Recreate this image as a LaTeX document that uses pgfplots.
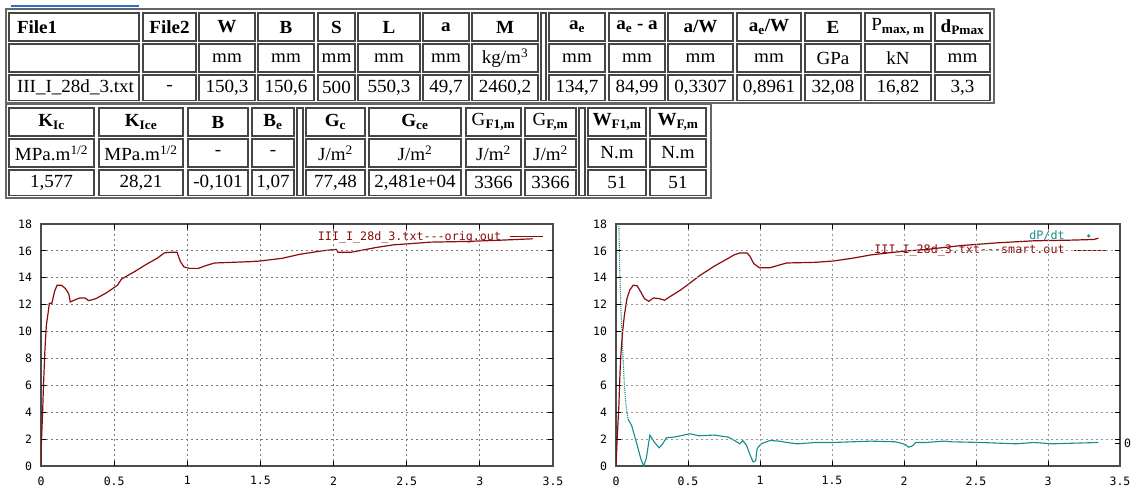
\documentclass[border=0pt]{standalone}
\usepackage{fontspec}
\setmainfont{Liberation Serif}
\setmonofont{DejaVu Sans Mono}
\newfontfamily\tabfont[FakeStretch=1.03]{Liberation Serif}
\usepackage{pgfplots}
\pgfplotsset{compat=1.18}

\definecolor{dred}{RGB}{140,10,10}
\definecolor{dteal}{RGB}{20,140,140}
\definecolor{cellline}{RGB}{70,70,70}
\definecolor{toplink}{RGB}{50,110,200}
\definecolor{gridc}{RGB}{150,150,150}

\newcommand\tf{\tabfont\fontsize{18.5}{21}\selectfont}
\newcommand\tickf{\ttfamily\fontsize{11.5}{13}\selectfont}
\newcommand\legf{\ttfamily\fontsize{11.7}{13}\selectfont}

% one cell: x1, x2, y1, y2, text (y grows downwards)
\newcommand\cell[5]{%
  \draw[cellline, line width=1.2pt] (#1,#3) rectangle (#2,#4);
  \node[font=\tf, inner sep=0pt] at ({(#1+#2)/2},{(#3+#4)/2}) {#5};}
% one column of three cells: x1, x2, y offset, head, unit, value
\newcommand\col[6]{%
  \cell{#1}{#2}{13+#3}{41+#3}{#4}
  \cell{#1}{#2}{44+#3}{72+#3}{#5}
  \cell{#1}{#2}{75+#3}{100.5+#3}{#6}}

% dashed grid and inward ticks of a frame: left x, right x, extra grid style
\newcommand\gpframe[3]{%
  \foreach \k in {0.5,1,1.5,2,2.5,3} {
    \pgfmathsetmacro\xx{#1+(#2-#1)*\k/3.5}
    \draw[gridc, line width=1pt, dash pattern=on 2pt off 3pt, #3] (\xx,224) -- (\xx,466);
    \draw[black, line width=1pt] (\xx,466) -- (\xx,461) (\xx,224) -- (\xx,229);}
  \foreach \j in {2,4,...,16} {
    \pgfmathsetmacro\yy{466-242*\j/18}
    \draw[gridc, line width=1pt, dash pattern=on 2pt off 3pt, #3] (#1,\yy) -- (#2,\yy);
    \draw[black, line width=1pt] (#1,\yy) -- (#1+5,\yy) (#2,\yy) -- (#2-5,\yy);}}

\pgfplotsset{
  gp/.style={
    scale only axis, height=242pt,
    xmin=0, xmax=3.5, ymin=0, ymax=18,
    xtick={0,0.5,...,3.5}, ytick={0,2,...,18},
    axis line style={black!70, line width=1.4pt},
    major tick length=0pt,
    tick label style={font=\tickf},
    yticklabel style={xshift=-5.5pt},
    xticklabel style={yshift=-7pt},
    legend style={draw=none, fill=none, font=\legf, inner sep=0pt,
      row sep=1pt, column sep=7pt, nodes={inner sep=1.5pt}},
    legend plot pos=right, legend cell align=right,
    legend image code/.code={\draw[##1] (0pt,0pt) -- (33pt,0pt);},
  }
}

\begin{document}
\begin{tikzpicture}
\path (0,0) rectangle (1131pt,-486pt);
\clip (0,0) rectangle (1131pt,-486pt);

% left plot
\begin{axis}[gp, at={(41pt,-466pt)}, anchor=south west, width=512pt,
  /pgf/number format/assume math mode=true,
  legend style={at={(rel axis cs:1,1)}, anchor=north east, xshift=-9pt, yshift=-6pt}]
\addplot[dred, line width=1.2pt] coordinates {
 (0,0) (0.002,1.5) (0.012,4.3) (0.017,6) (0.027,8.7) (0.037,10.5)
 (0.05,11.5) (0.057,12.1) (0.074,12.1) (0.093,13.0) (0.11,13.45)
 (0.14,13.45) (0.167,13.2) (0.19,12.8) (0.2,12.2) (0.23,12.35)
 (0.265,12.5) (0.3,12.5) (0.327,12.3) (0.376,12.45) (0.45,12.9)
 (0.523,13.45) (0.55,13.9) (0.646,14.5) (0.72,15.0) (0.794,15.45)
 (0.843,15.85) (0.89,15.9) (0.93,15.9) (0.953,15.2) (0.978,14.8)
 (1.015,14.7) (1.076,14.7) (1.125,14.9) (1.187,15.1) (1.31,15.15)
 (1.43,15.2) (1.5,15.25) (1.65,15.45) (1.77,15.75) (1.92,16.0)
 (2.0,16.1) (2.02,16.1) (2.03,15.9) (2.12,15.9) (2.29,16.25)
 (2.41,16.45) (2.54,16.55) (2.66,16.65) (2.9,16.7) (3.15,16.8) (3.36,16.9)
};
\addlegendentry{\textcolor{dred}{III\_I\_28d\_3.txt---orig.out}}
\end{axis}

% right plot
\begin{axis}[gp, at={(616pt,-466pt)}, anchor=south west, width=504pt,
  /pgf/number format/assume math mode=true,
  legend style={at={(rel axis cs:1,1)}, anchor=north east, xshift=-12.5pt, yshift=-5pt}]
\addplot[dteal, line width=1.1pt,
  legend image code/.code={\fill[dteal] (15pt,0pt) circle (0.9pt); \path (33pt,0pt);}]
 coordinates {
 (0.083,3.5) (0.109,3.0) (0.147,1.55) (0.172,0.55) (0.192,0) (0.21,0.55)
 (0.235,2.3) (0.268,1.75) (0.3,1.35) (0.324,1.65) (0.35,2.1) (0.4,2.15)
 (0.45,2.25) (0.513,2.4) (0.577,2.25) (0.68,2.3) (0.78,2.15) (0.83,1.85)
 (0.86,1.65) (0.88,1.9) (0.906,1.55) (0.93,0.85) (0.952,0.3) (0.97,0.4)
 (0.98,1.3) (1.008,1.65) (1.07,1.9) (1.135,1.85) (1.185,1.75) (1.26,1.65)
 (1.387,1.75) (1.51,1.75) (1.64,1.8) (1.77,1.85) (1.94,1.8) (2.01,1.6)
 (2.03,1.4) (2.06,1.5) (2.08,1.75) (2.15,1.75) (2.28,1.85) (2.33,1.8)
 (2.53,1.75) (2.78,1.65) (2.9,1.75) (3.03,1.65) (3.35,1.75)
};
\addlegendentry{\textcolor{dteal}{dP/dt}}
\addplot[dteal, densely dotted, line width=1.1pt, forget plot] coordinates {
 (0.02,18) (0.025,15) (0.033,12) (0.045,9) (0.058,6) (0.07,4.5) (0.083,3.5)
};
\addplot[dred, line width=1.2pt] coordinates {
 (0,0) (0.008,2) (0.02,4.5) (0.028,7) (0.035,8.5) (0.046,10) (0.058,11.2)
 (0.076,12.45) (0.096,13.1) (0.12,13.45) (0.147,13.4) (0.172,12.95)
 (0.197,12.45) (0.228,12.25) (0.26,12.5) (0.3,12.45) (0.337,12.33)
 (0.375,12.6) (0.45,13.1) (0.5,13.5) (0.58,14.15) (0.68,14.85) (0.755,15.3)
 (0.82,15.7) (0.86,15.85) (0.91,15.85) (0.93,15.6) (0.957,15.05)
 (0.995,14.75) (1.07,14.75) (1.135,14.95) (1.185,15.1) (1.387,15.15)
 (1.51,15.25) (1.64,15.45) (1.77,15.7) (1.89,15.85) (2.02,16.0) (2.15,16.1)
 (2.4,16.4) (2.65,16.6) (2.9,16.75) (3.16,16.8) (3.32,16.85) (3.35,16.95)
};
\addlegendentry{\textcolor{dred}{III\_I\_28d\_3.txt---smart.out}}
\end{axis}

\draw[black, line width=1pt] (1115pt,-443pt) -- (1120pt,-443pt);
\node[font=\tickf, anchor=west, inner sep=0pt] at (1124pt,-443pt) {0};

\begin{scope}[x=1pt, y=-1pt]
% grids and ticks of both frames
\gpframe{41}{553}{gridc!80!black, line width=1.2pt}
\gpframe{616}{1120}{}

% tables
\draw[toplink, line width=2pt] (11,6) -- (139,6);

\col{9}{139}{0}{\makebox[114pt][l]{\textbf{File1}}}{}{\makebox[114pt][l]{III\_I\_28d\_3.txt}}
\col{143}{196}{0}{\textbf{File2}}{}{-}
\col{199}{255}{0}{\textbf{W}}{mm}{150,3}
\col{258}{314}{0}{\textbf{B}}{mm}{150,6}
\col{318}{355}{0}{\textbf{S}}{mm}{500}
\col{358}{420}{0}{\textbf{L}}{mm}{550,3}
\col{423}{469}{0}{\textbf{a}}{mm}{49,7}
\col{472}{538}{0}{\textbf{M}}{kg/m\textsuperscript{3}}{2460,2}
\draw[cellline, line width=1.2pt] (541,13) rectangle (546,100.5);
\col{549}{605}{0}{\textbf{a\textsubscript{e}}}{mm}{134,7}
\col{609}{665}{0}{\textbf{a\textsubscript{e} - a}}{mm}{84,99}
\col{668}{733}{0}{\textbf{a/W}}{mm}{0,3307}
\col{737}{801}{0}{\textbf{a\textsubscript{e}/W}}{mm}{0,8961}
\col{805}{861}{0}{\textbf{E}}{GPa}{32,08}
\col{865}{931}{0}{P\textsubscript{\textbf{max, m}}}{kN}{16,82}
\col{935}{990}{0}{\textbf{d\textsubscript{Pmax}}}{mm}{3,3}
\draw[gray!80!black, line width=2pt] (5.5,9.5) rectangle (994,103.5);

\col{9}{94}{95}{\textbf{K\textsubscript{Ic}}}{MPa.m\textsuperscript{1/2}}{1,577}
\col{99}{183}{95}{\textbf{K\textsubscript{Ice}}}{MPa.m\textsuperscript{1/2}}{28,21}
\col{188}{248}{95}{\textbf{B}}{-}{-0,101}
\col{252}{294}{95}{\textbf{B\textsubscript{e}}}{-}{1,07}
\draw[cellline, line width=1.2pt] (297,108) rectangle (303,195.5);
\col{306}{365}{95}{\textbf{G\textsubscript{c}}}{J/m\textsuperscript{2}}{77,48}
\col{369}{461}{95}{\textbf{G\textsubscript{ce}}}{J/m\textsuperscript{2}}{2,481e+04}
\col{466}{521}{95}{G\textsubscript{\textbf{F1,m}}}{J/m\textsuperscript{2}}{3366}
\col{525}{576}{95}{G\textsubscript{\textbf{F,m}}}{J/m\textsuperscript{2}}{3366}
\draw[cellline, line width=1.2pt] (579,108) rectangle (585,195.5);
\col{588}{646}{95}{\textbf{W\textsubscript{F1,m}}}{N.m}{51}
\col{650}{706}{95}{\textbf{W\textsubscript{F,m}}}{N.m}{51}
\draw[gray!80!black, line width=2pt] (5.5,104.5) rectangle (711,198.5);
\end{scope}
\end{tikzpicture}
\end{document}
